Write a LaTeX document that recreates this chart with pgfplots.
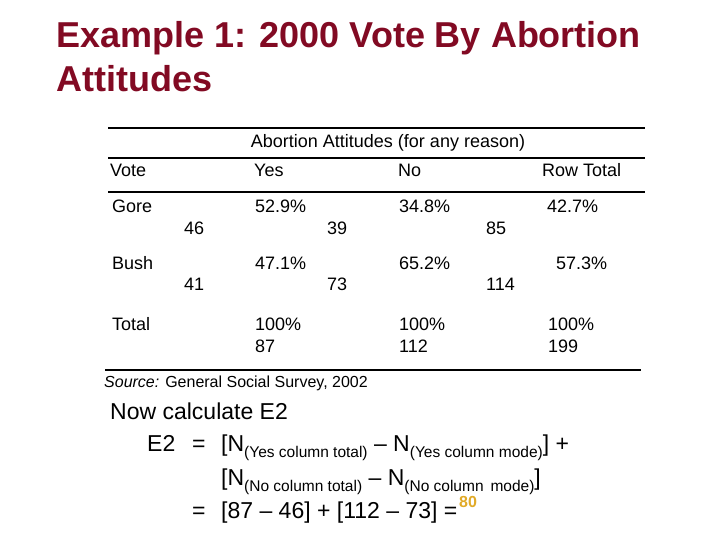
\documentclass[border=0pt]{standalone}
\usepackage{pgfplots}
\pgfplotsset{compat=1.18}
\usepackage{fontspec}
\setmainfont{Liberation Sans}
\definecolor{titlered}{RGB}{130,10,35}
\definecolor{gold}{RGB}{225,170,40}
\newcommand{\sub}[1]{\raisebox{-0.3em}{\fontsize{15.5}{15.5}\selectfont #1}}
\begin{document}
\begin{tikzpicture}
\begin{axis}[width=720pt,height=540pt,scale only axis,
  xmin=0,xmax=720,ymin=0,ymax=540,y dir=reverse,
  hide axis,clip=false]
\fill[white] (axis cs:0,0) rectangle (axis cs:720,540);
% rules of the table
\addplot[black,line width=1.6pt] coordinates {(108,128) (645,128)};
\addplot[black,line width=1.6pt] coordinates {(108,158) (645,158)};
\addplot[black,line width=1.6pt] coordinates {(108,192) (645,192)};
\addplot[black,line width=1.6pt] coordinates {(105,370) (641,370)};
% title
\begin{scope}[every node/.style={anchor=base west,inner sep=0pt,text=titlered,font=\fontsize{36}{36}\selectfont\bfseries}]
\node at (axis cs:56,48) {Example 1: 2000 Vote By Abortion};
\node at (axis cs:56,92) {Attitudes};
\end{scope}
% table
\begin{scope}[every node/.style={anchor=base west,inner sep=0pt,font=\fontsize{18}{18}\selectfont}]
\node[anchor=base] at (axis cs:388,148) {Abortion Attitudes (for any reason)};
\node at (axis cs:110,177) {Vote};
\node at (axis cs:254,177) {Yes};
\node at (axis cs:398,177) {No};
\node at (axis cs:542,177) {Row Total};
\node at (axis cs:112,212) {Gore};
\node at (axis cs:255,212) {52.9\%};
\node at (axis cs:399,212) {34.8\%};
\node at (axis cs:547,212) {42.7\%};
\node at (axis cs:184,234) {46};
\node at (axis cs:327,234) {39};
\node at (axis cs:486,234) {85};
\node at (axis cs:112,269) {Bush};
\node at (axis cs:255,269) {47.1\%};
\node at (axis cs:399,269) {65.2\%};
\node at (axis cs:556,269) {57.3\%};
\node at (axis cs:184,290) {41};
\node at (axis cs:327,290) {73};
\node at (axis cs:486,290) {114};
\node at (axis cs:112,330) {Total};
\node at (axis cs:255,330) {100\%};
\node at (axis cs:399,330) {100\%};
\node at (axis cs:548,330) {100\%};
\node at (axis cs:255,352) {87};
\node at (axis cs:399,352) {112};
\node at (axis cs:548,352) {199};
\end{scope}
\node[anchor=base west,inner sep=0pt,font=\fontsize{16}{16}\selectfont] at (axis cs:104,387) {\textit{Source:} General Social Survey, 2002};
% calculation
\begin{scope}[every node/.style={anchor=base west,inner sep=0pt,font=\fontsize{23}{23}\selectfont}]
\node at (axis cs:110,419) {Now calculate E2};
\node at (axis cs:147,451) {E2};
\node at (axis cs:192,451) {=};
\node at (axis cs:221,451) {[N\sub{(Yes column total)} -- N\sub{(Yes column mode)}] +};
\node at (axis cs:221,485) {[N\sub{(No column total)} -- N\sub{(No column\, mode)}]};
\node at (axis cs:192,518) {=};
\node at (axis cs:221,518) {[87 -- 46] + [112 -- 73] =};
\end{scope}
\node[anchor=base west,inner sep=0pt,text=gold,font=\fontsize{16}{16}\selectfont\bfseries] at (axis cs:459,507) {80};
\end{axis}
\end{tikzpicture}
\end{document}
